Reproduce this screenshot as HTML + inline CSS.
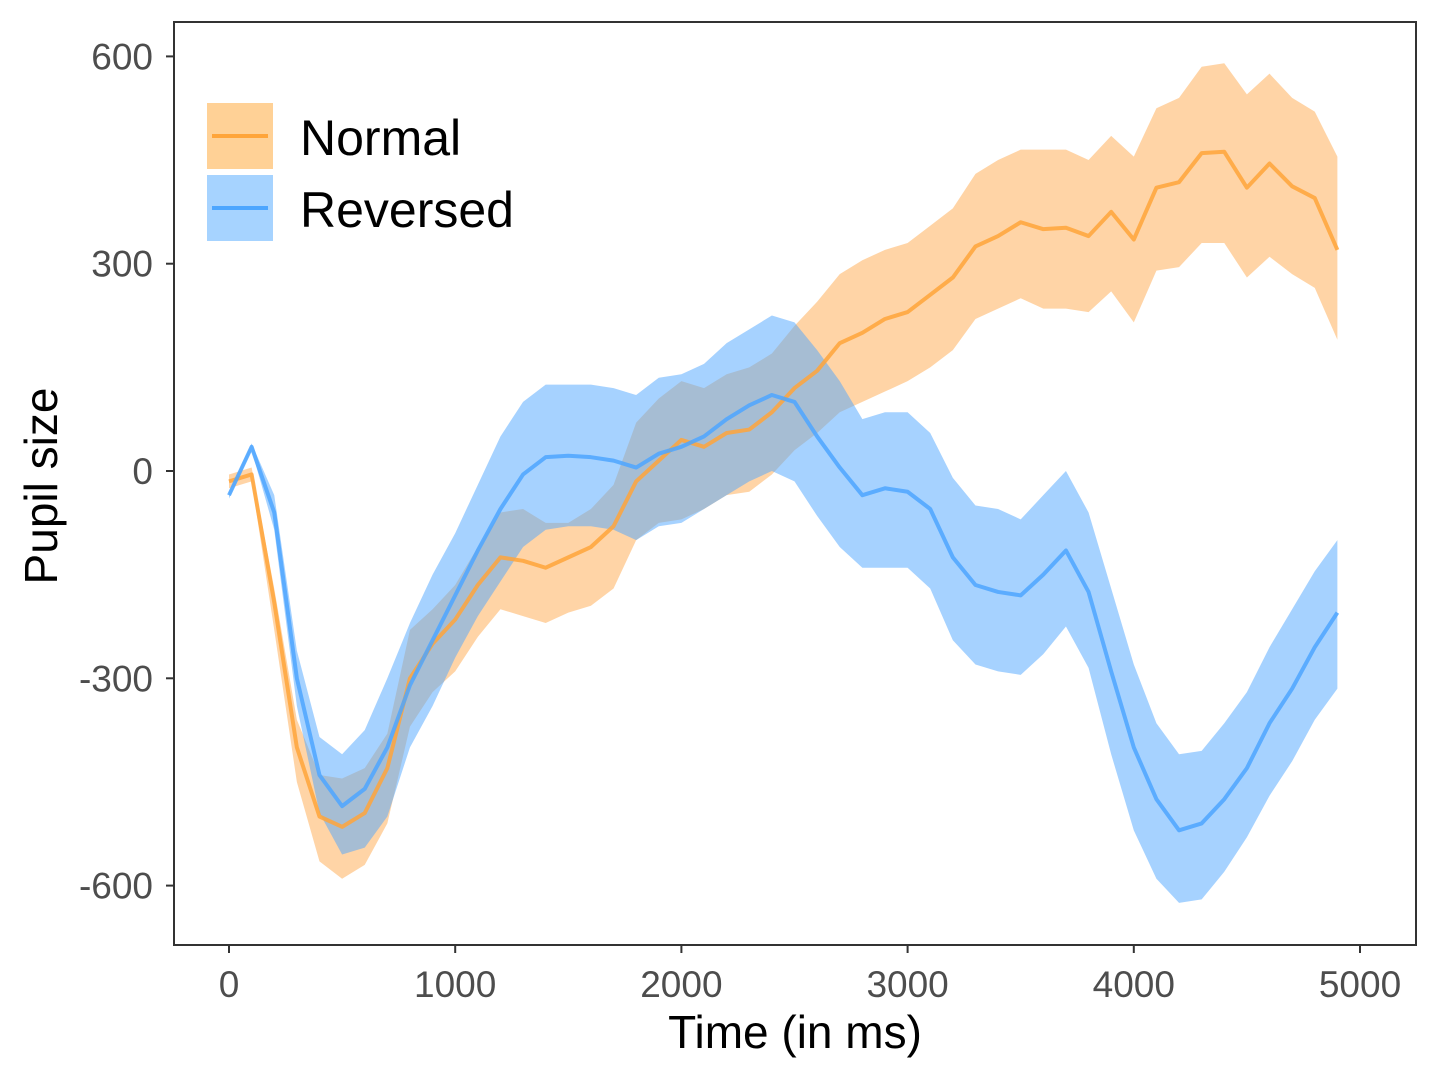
<!DOCTYPE html>
<html><head><meta charset="utf-8"><style>
body{margin:0;background:#fff}
svg{display:block;font-family:"Liberation Sans",sans-serif}
</style></head><body>
<svg id="chart" width="1440" height="1080" viewBox="0 0 1440 1080">
<rect width="1440" height="1080" fill="#fff"/>
<g id="plot"></g>
<rect x="174" y="22" width="1242" height="923" fill="none" stroke="#333" stroke-width="2"/>
<g id="axes"></g>
<text x="795" y="1048" font-size="46" text-anchor="middle">Time (in ms)</text>
<text transform="translate(57,486) rotate(-90)" font-size="46" text-anchor="middle">Pupil size</text>
<g>
<rect x="207" y="103" width="66" height="66" fill="#FFD196"/>
<line x1="212" x2="268" y1="136" y2="136" stroke="#FFA53A" stroke-width="4"/>
<text x="300" y="155" font-size="50">Normal</text>
<rect x="207" y="175" width="66" height="66" fill="#A6D3FF"/>
<line x1="212" x2="268" y1="208" y2="208" stroke="#4DA6FF" stroke-width="4"/>
<text x="300" y="227" font-size="50">Reversed</text>
</g>
</svg>
<script>
const times=[0,100,200,300,400,500,600,700,800,900,1000,1100,1200,1300,1400,1500,1600,1700,1800,1900,2000,2100,2200,2300,2400,2500,2600,2700,2800,2900,3000,3100,3200,3300,3400,3500,3600,3700,3800,3900,4000,4100,4200,4300,4400,4500,4600,4700,4800,4900];
const normalMean=[-15,-5,-190,-400,-500,-515,-495,-430,-300,-250,-215,-165,-125,-130,-140,-125,-110,-80,-15,15,45,35,55,60,85,120,145,185,200,220,230,255,280,325,340,360,350,352,340,375,335,410,418,460,462,410,445,412,395,320];
const normalUpper=[-5,5,-170,-360,-440,-445,-430,-380,-230,-200,-165,-110,-60,-55,-75,-75,-55,-20,70,105,130,120,140,150,170,210,245,285,305,320,330,355,380,430,450,465,465,465,450,485,455,525,540,585,590,545,575,540,520,455];
const normalLower=[-25,-15,-230,-450,-565,-590,-570,-510,-370,-320,-290,-240,-200,-210,-220,-205,-195,-170,-100,-75,-70,-55,-35,-30,-5,30,55,85,100,115,130,150,175,220,235,250,235,235,230,260,215,290,295,330,330,280,310,285,265,190];
const revMean=[-35,35,-60,-300,-440,-485,-460,-400,-310,-245,-180,-115,-55,-5,20,22,20,15,5,25,35,50,75,95,110,100,50,5,-35,-25,-30,-55,-125,-165,-175,-180,-150,-115,-175,-290,-400,-475,-520,-510,-475,-430,-365,-315,-255,-205];
const revUpper=[-30,40,-35,-260,-385,-410,-375,-300,-220,-150,-90,-20,50,100,125,125,125,120,110,135,140,155,185,205,225,215,175,130,75,85,85,55,-10,-50,-55,-70,-35,0,-60,-170,-280,-365,-410,-405,-365,-320,-255,-200,-145,-100];
const revLower=[-40,30,-85,-340,-495,-555,-545,-500,-400,-340,-270,-210,-160,-110,-85,-80,-80,-85,-100,-80,-75,-55,-35,-15,0,-15,-65,-110,-140,-140,-140,-170,-245,-280,-290,-295,-265,-225,-285,-410,-520,-590,-625,-620,-580,-530,-470,-420,-360,-315];
const xTicks=[0,1000,2000,3000,4000,5000];
const yTicks=[-600,-300,0,300,600];
const NS='http://www.w3.org/2000/svg';
const xs=v=>229+(v/5000)*1131;
const ys=v=>471-v*0.691;
const plot=document.getElementById('plot'),axes=document.getElementById('axes');
function mk(tag,attrs,parent){const e=document.createElementNS(NS,tag);for(const k in attrs)e.setAttribute(k,attrs[k]);parent.appendChild(e);return e;}
function band(up,lo,fill,name){
  let d=times.map((t,i)=>(i?'L':'M')+xs(t)+','+ys(up[i])).join('');
  for(let i=times.length-1;i>=0;i--)d+='L'+xs(times[i])+','+ys(lo[i]);
  const p=mk('path',{d:d+'Z',fill:fill,'fill-opacity':0.5},plot);
  
  
}
function line(m,col,name){
  const d=times.map((t,i)=>(i?'L':'M')+xs(t)+','+ys(m[i])).join('');
  const p=mk('path',{d:d,fill:'none',stroke:col,'stroke-width':4,'stroke-opacity':0.85,'stroke-linejoin':'round'},plot);
  
  
}
band(normalUpper,normalLower,'#FFA94D','normal-ci-band');
band(revUpper,revLower,'#4DA6FF','reversed-ci-band');
line(normalMean,'#FFA53A','normal-mean-line');
line(revMean,'#4DA6FF','reversed-mean-line');
xTicks.forEach(v=>{
  const l=mk('line',{x1:xs(v),x2:xs(v),y1:945,y2:953,stroke:'#333','stroke-width':2},axes);
  
  
  const t=mk('text',{x:xs(v),y:997,'font-size':37,fill:'#4d4d4d','text-anchor':'middle'},axes);
  t.textContent=v;
  
  
});
yTicks.forEach(v=>{
  const l=mk('line',{x1:166,x2:174,y1:ys(v),y2:ys(v),stroke:'#333','stroke-width':2},axes);
  
  
  const t=mk('text',{x:153,y:ys(v)+13,'font-size':37,fill:'#4d4d4d','text-anchor':'end'},axes);
  t.textContent=v;
  
  
});
</script>
</body></html>
